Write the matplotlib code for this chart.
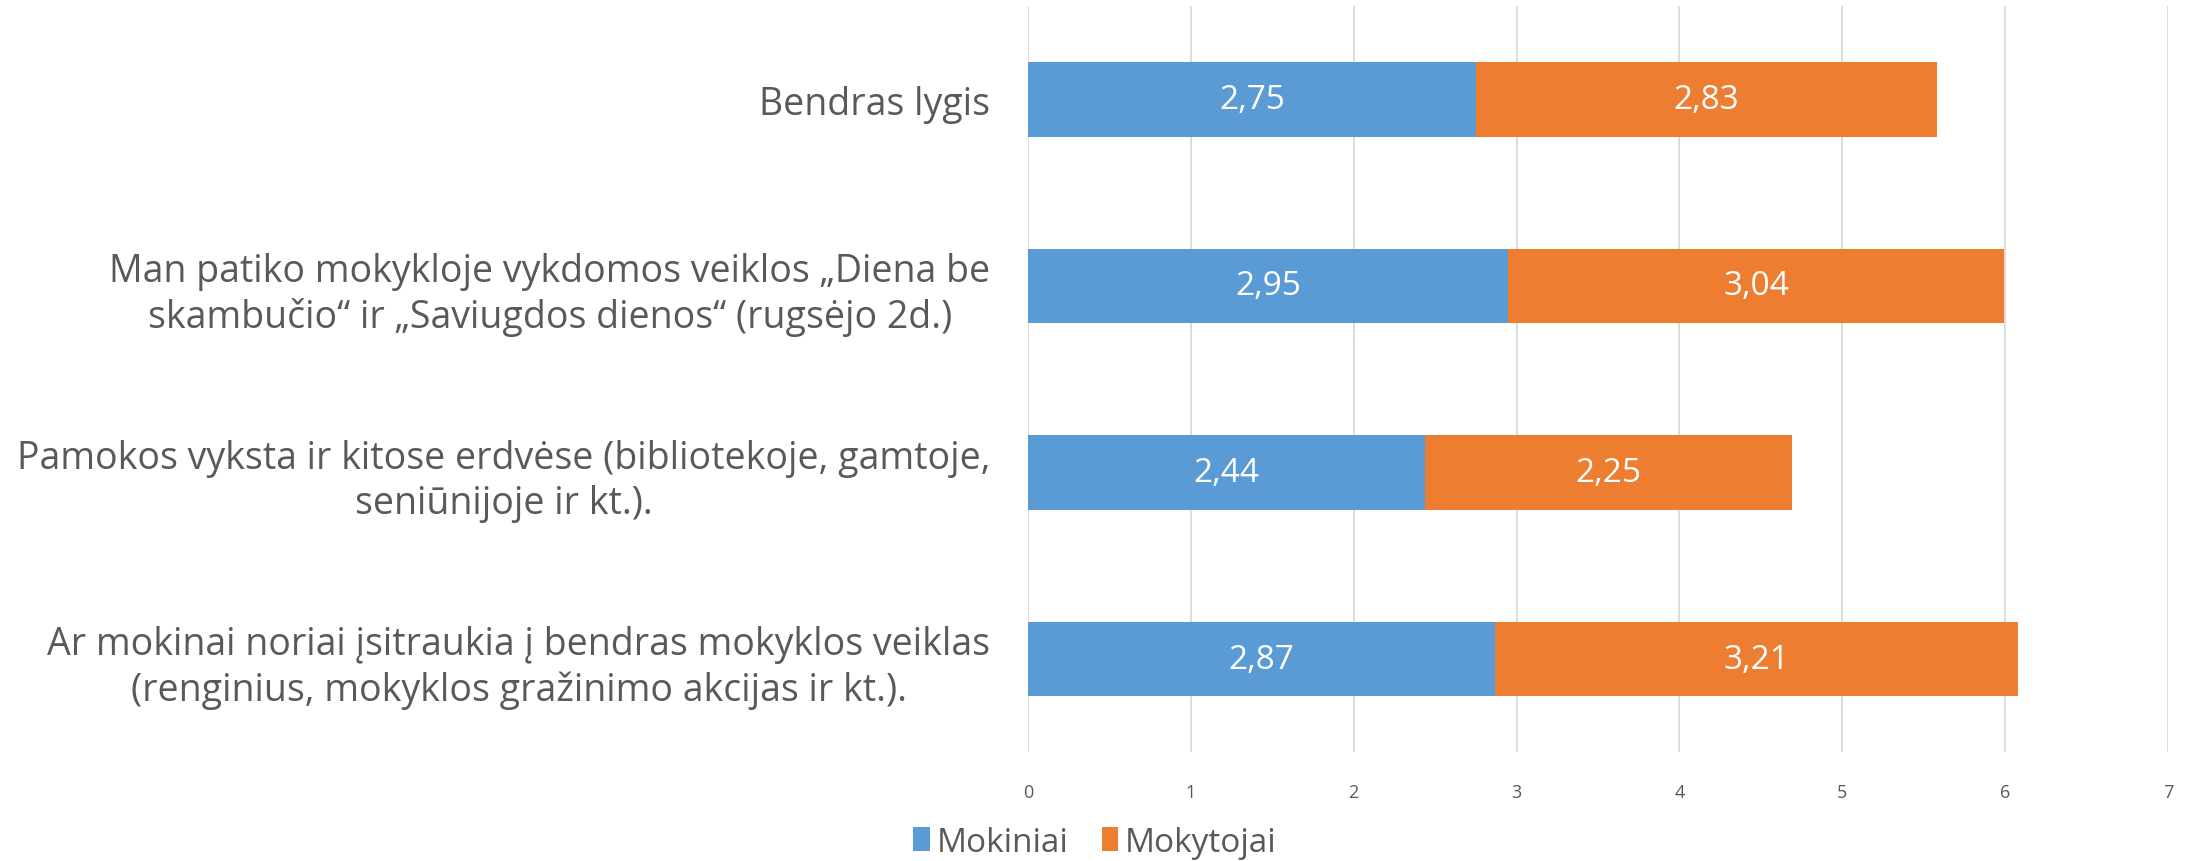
import matplotlib
matplotlib.use("Agg")
import matplotlib.pyplot as plt
from matplotlib import font_manager

# data
categories = [
    "Bendras lygis",
    "Man patiko mokykloje vykdomos veiklos „Diena be\nskambučio“ ir „Saviugdos dienos“ (rugsėjo 2d.)",
    "Pamokos vyksta ir kitose erdvėse (bibliotekoje, gamtoje,\nseniūnijoje ir kt.).",
    "Ar mokinai noriai įsitraukia į bendras mokyklos veiklas\n(renginius, mokyklos gražinimo akcijas ir kt.).",
]
mokiniai = [2.75, 2.95, 2.44, 2.87]
mokytojai = [2.83, 3.04, 2.25, 3.21]
series_names = ["Mokiniai", "Mokytojai"]
x_ticks = [0, 1, 2, 3, 4, 5, 6, 7]

# pick a narrow font if one is around (Calibri look-alike)
installed = {f.name for f in font_manager.fontManager.ttflist}
family = "Liberation Sans Narrow" if "Liberation Sans Narrow" in installed else "Open Sans"
plt.rcParams['font.family'] = [family, 'DejaVu Sans']

TEXT = "#595959"
BLUE = "#5B9BD5"
ORANGE = "#ED7D31"

fig = plt.figure(figsize=(21.9, 8.62), dpi=100)
ax = fig.add_axes([0.4694, 0.126, 0.5206, 0.866])

ypos = list(range(len(categories)))
b1 = ax.barh(ypos, mokiniai, height=0.4, color=BLUE, label=series_names[0], zorder=3)
b2 = ax.barh(ypos, mokytojai, left=mokiniai, height=0.4, color=ORANGE,
             label=series_names[1], zorder=3)

for bars in (b1, b2):
    labels = [f"{v:.2f}".replace(".", ",") for v in bars.datavalues]
    ax.bar_label(bars, labels=labels, label_type="center", color="white", fontsize=24)

ax.set_ylim(-0.5, len(categories) - 0.5)
ax.invert_yaxis()
ax.set_xlim(0, 7)
ax.set_xticks(x_ticks)
ax.set_yticks(ypos)
ax.set_yticklabels(categories, fontsize=27, color=TEXT, multialignment="center",
                   linespacing=1.23)
ax.tick_params(axis="y", length=0, pad=27)
ax.tick_params(axis="x", length=0, pad=22, labelsize=13, labelcolor=TEXT)

ax.grid(axis="x", color="#D9D9D9", linewidth=1.3, zorder=0)
for s in ax.spines.values():
    s.set_visible(False)

ax.legend(loc="center", bbox_to_anchor=(0.5, 0.022), bbox_transform=fig.transFigure,
          ncol=2, frameon=False, fontsize=24, labelcolor=TEXT,
          handlelength=0.5, handleheight=0.7, handletextpad=0.2, columnspacing=1.0)

fig.savefig("out.png", dpi=100)
